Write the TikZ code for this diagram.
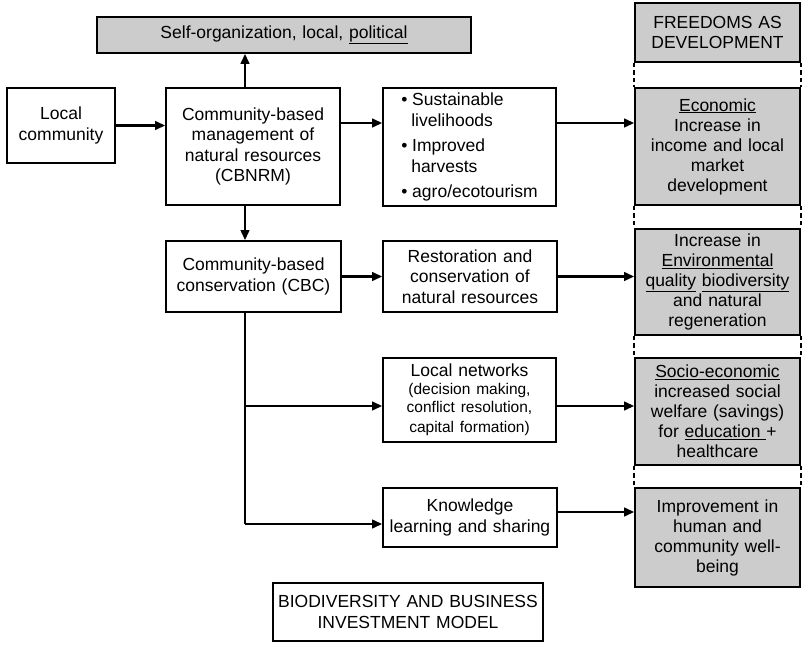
\documentclass[tikz,border=0pt]{standalone}
\usepackage{fontspec}
\setmainfont{Liberation Sans}
\usetikzlibrary{arrows.meta}
\definecolor{boxgray}{RGB}{204,204,204}
\tikzset{
  box/.style={draw=black, line width=1.6pt, fill=white, inner sep=0pt,
    align=center, font=\fontsize{17.5}{20.5}\selectfont},
  graybox/.style={box, fill=boxgray, font=\fontsize{17.5}{20}\selectfont},
  arr/.style={line width=2.3pt, -{Triangle[length=10pt,width=8.5pt]}},
  trunk/.style={line width=1.6pt},
  gapline/.style={line width=2pt, dash pattern=on 4.5pt off 3pt},
}
\newcommand{\smalltxt}{\fontsize{15.5}{18}\selectfont}
\begin{document}
\begin{tikzpicture}[x=1pt,y=-1pt]
\useasboundingbox (0,0) rectangle (802,647);

% left and middle column
\node[graybox, minimum width=374pt, minimum height=36pt, text width=368pt] (self) at (284,35)
  {Self-organization, local, \underline{political}};
\node[box, minimum width=108pt, minimum height=75pt, text width=102pt] (lc) at (61,125.5)
  {Local\\community};
\node[box, minimum width=174pt, minimum height=117pt, text width=168pt] (cbnrm) at (253,146.5)
  {Community-based\\management of\\natural resources\\(CBNRM)};
\node[box, minimum width=175pt, minimum height=71pt, text width=169pt] (cbc) at (253.5,276.5)
  {Community-based\\conservation (CBC)};
\node[box, minimum width=173pt, minimum height=118pt, align=left, font=\fontsize{17.5}{21}\selectfont] (liv) at (469.5,147)
  {\textbullet\ Sustainable\\\hspace*{10pt}livelihoods\\[4pt]\textbullet\ Improved\\\hspace*{10pt}harvests\\[4pt]\textbullet\ agro/ecotourism};
\node[box, minimum width=174pt, minimum height=71pt, text width=168pt] (rest) at (470,276.5)
  {Restoration and\\conservation of\\natural resources};
\node[box, minimum width=173pt, minimum height=84pt, text width=167pt] (net) at (469.5,400)
  {Local networks\\\smalltxt(decision making,\\conflict resolution,\\capital formation)};
\node[box, minimum width=174pt, minimum height=59pt, text width=168pt] (know) at (470,517.5)
  {Knowledge\\learning and sharing};
\node[box, minimum width=270pt, minimum height=58pt, text width=264pt] (bim) at (408,612)
  {BIODIVERSITY AND BUSINESS\\INVESTMENT MODEL};

% freedoms column
\node[graybox, minimum width=165pt, minimum height=59pt, text width=160pt] (free) at (717.5,32.5)
  {FREEDOMS AS\\DEVELOPMENT};
\node[graybox, minimum width=165pt, minimum height=117pt, text width=160pt] (econ) at (717.5,146.5)
  {\underline{Economic}\\Increase in\\income and local\\market\\development};
\node[graybox, minimum width=165pt, minimum height=106pt, text width=160pt] (env) at (717.5,282)
  {Increase in\\\underline{Environmental}\\\underline{quality} \underline{biodiversity}\\and natural\\regeneration};
\node[graybox, minimum width=165pt, minimum height=107pt, text width=160pt] (socio) at (717.5,411.5)
  {\underline{Socio-economic}\\increased social\\welfare (savings)\\for \underline{education\ }+\\healthcare};
\node[graybox, minimum width=165pt, minimum height=99pt, text width=160pt] (impr) at (717.5,537.5)
  {Improvement in\\human and\\community well-\\being};

% dashed sides of the gaps between the freedoms
\foreach \a/\b in {free/econ, econ/env, env/socio, socio/impr}{
  \draw[gapline] (\a.south west) -- (\b.north west);
  \draw[gapline] (\a.south east) -- (\b.north east);
}

% connectors
\coordinate (cx) at (245,0);
\coordinate (b1) at (245,406);
\coordinate (b2) at (245,524);
\coordinate (n1) at (0,406);
\coordinate (k1) at (0,512);
\coordinate (l1) at (0,123);

\draw[arr] (lc.east) -- (lc.east -| cbnrm.west);
\draw[arr] (cbnrm.north -| cx) -- (self.south -| cx);
\draw[arr] (cbnrm.south -| cx) -- (cbc.north -| cx);
\draw[arr] (cbnrm.east |- l1) -- (liv.west |- l1);
\draw[arr] (liv.east |- l1) -- (econ.west |- l1);
\draw[arr] (cbc.east) -- (rest.west);
\draw[arr] (rest.east) -- (rest.east -| env.west);
\draw[trunk] (cbc.south -| cx) -- (b2);
\draw[arr] (b1) -- (b1 -| net.west);
\draw[arr] (b2) -- (b2 -| know.west);
\draw[arr] (net.east |- n1) -- (socio.west |- n1);
\draw[arr] (know.east |- k1) -- (impr.west |- k1);
\end{tikzpicture}
\end{document}
